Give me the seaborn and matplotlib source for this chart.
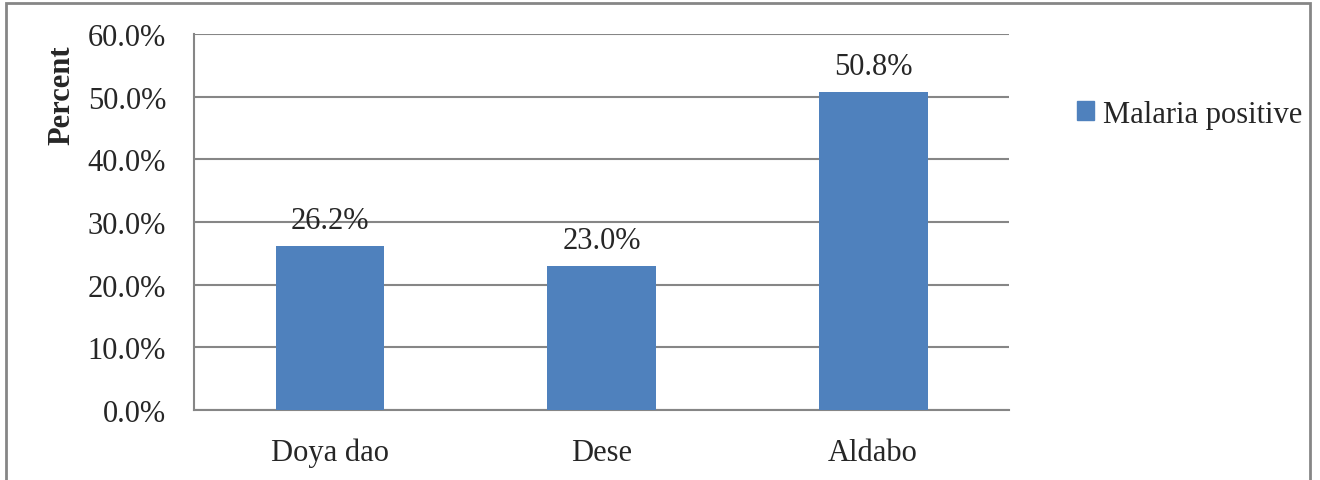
import matplotlib
matplotlib.use("Agg")
import matplotlib.pyplot as plt
from matplotlib.patches import Patch, Rectangle
import seaborn as sns
import pandas as pd

sites = ["Doya dao", "Dese", "Aldabo"]
malaria_positive = [26.2, 23.0, 50.8]
y_ticks = [0, 10, 20, 30, 40, 50, 60]

sns.set_style("white")
plt.rcParams["font.family"] = ["Liberation Serif", "DejaVu Serif"]

BAR = "#4F81BD"
GRID = "#868686"
FS = 22

df = pd.DataFrame({"site": sites, "pct": malaria_positive})

fig = plt.figure(figsize=(13.2, 4.81), dpi=100)
ax = fig.add_axes([194 / 1320, 70 / 481, 815 / 1320, 376 / 481])

sns.barplot(data=df, x="site", y="pct", color=BAR, width=0.4, ax=ax,
            saturation=1, linewidth=0, zorder=3)

ax.set_xlim(-0.5, len(sites) - 0.5)
ax.set_ylim(0, 60)
ax.set_yticks(y_ticks)
ax.set_yticklabels([f"{v:.1f}%" for v in y_ticks], fontsize=FS)
ax.yaxis.grid(True, color=GRID, linewidth=1.5, zorder=0)
ax.set_axisbelow(True)

# category boundaries carry the tick marks; names sit at the centres
ax.set_xticks([i - 0.5 for i in range(len(sites) + 1)])
ax.set_xticklabels([])
ax.set_xticks(range(len(sites)), minor=True)
ax.set_xticklabels(sites, minor=True, fontsize=FS)
ax.tick_params(axis="x", which="major", length=8, width=1.5, color=GRID, direction="out")
ax.tick_params(axis="x", which="minor", length=0, pad=20)
ax.tick_params(axis="y", length=8, width=1.5, color=GRID, direction="out", pad=12)

for side in ("top", "right"):
    ax.spines[side].set_visible(False)
for side in ("left", "bottom"):
    ax.spines[side].set_color(GRID)
    ax.spines[side].set_linewidth(1.5)

ax.set_xlabel("")
ax.set_ylabel("Percent", fontsize=FS, fontweight="bold")
ax.yaxis.set_label_coords(-0.144, 0.84)

for i, v in enumerate(malaria_positive):
    ax.annotate(f"{v:.1f}%", (i, v), xytext=(0, 8), textcoords="offset points",
                ha="center", va="bottom", fontsize=FS, zorder=1)

fig.legend(handles=[Patch(facecolor=BAR, edgecolor=BAR, label="Malaria positive")],
           loc="center left", bbox_to_anchor=(1077 / 1320, 1 - 115 / 481),
           frameon=False, fontsize=FS, handlelength=0.55, handleheight=0.55,
           handletextpad=0.3, borderaxespad=0, borderpad=0)

# outer frame (open at the bottom)
fig.add_artist(Rectangle((6.5 / 1320, -0.1), (1310 - 6.5) / 1320, 1.1 - 3.5 / 481,
                         transform=fig.transFigure, fill=False,
                         edgecolor=GRID, linewidth=2, clip_on=False))

fig.savefig("out.png", dpi=100)
